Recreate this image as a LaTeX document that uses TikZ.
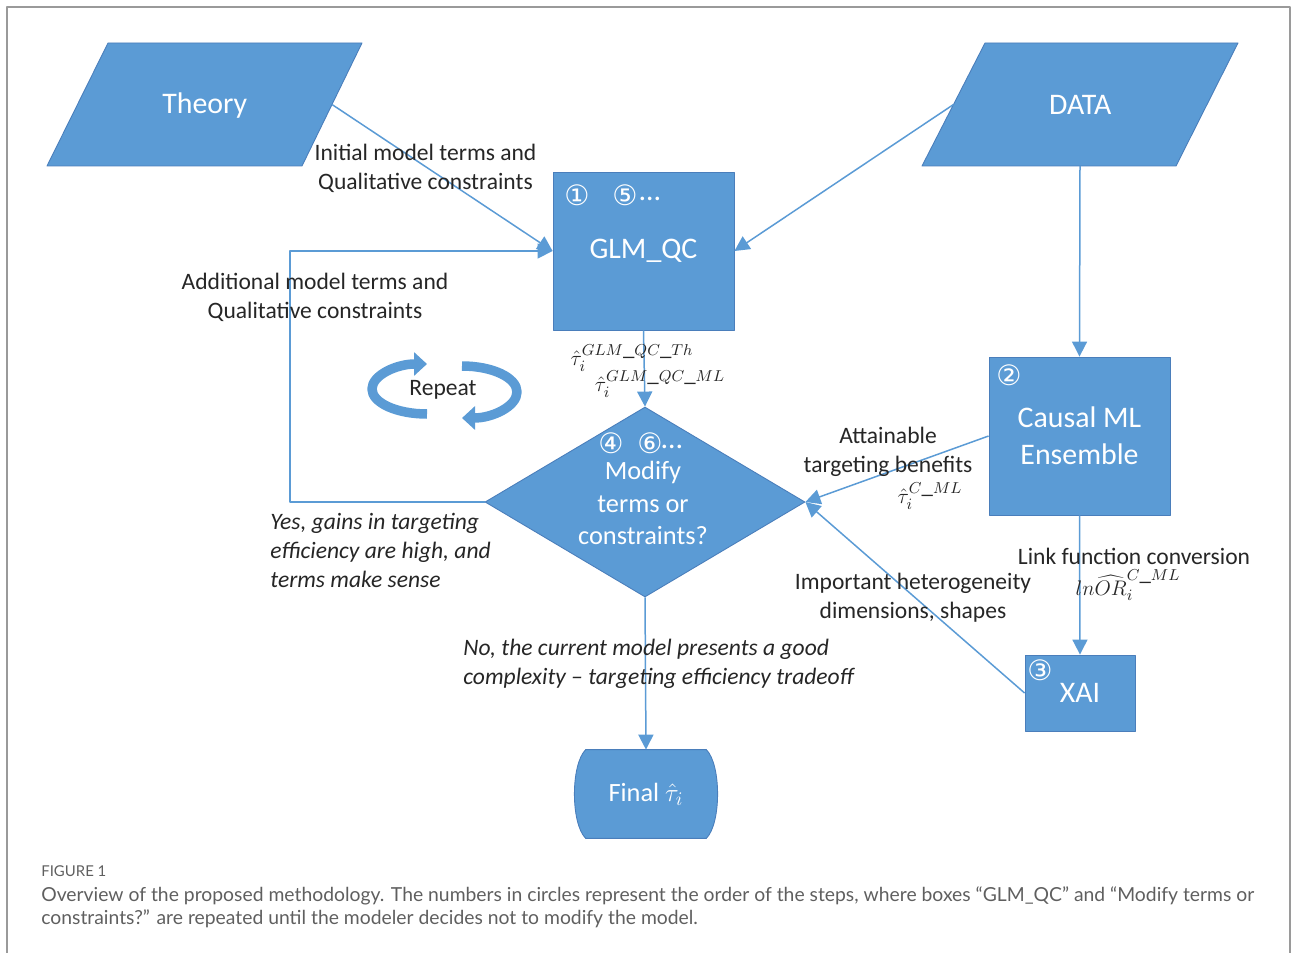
\documentclass[tikz,border=0pt]{standalone}
\usepackage{fontspec}
\setmainfont{Carlito}
\newfontfamily\symfont{DejaVu Sans}
\newfontfamily\capfamily{Lato}
\usetikzlibrary{arrows.meta,shapes.geometric,backgrounds,calc}
\definecolor{boxblue}{HTML}{5B9BD5}
\definecolor{boxline}{HTML}{4A7EBB}
\definecolor{linkblue}{HTML}{5B9BD5}
\definecolor{labelgray}{HTML}{262626}
\definecolor{capgray}{HTML}{5F5F5F}
\definecolor{framegray}{HTML}{9A9A9A}
\newcommand\bxfont{\fontsize{17}{21}\selectfont}
\newcommand\lbfont{\fontsize{13.4}{16.5}\selectfont}
\newcommand\dmfont{\fontsize{15}{18.5}\selectfont}
\newcommand\mtfont{\fontsize{13}{15}\selectfont}
\tikzset{
  blockfill/.style={draw=boxline, fill=boxblue, line width=0.5pt},
  block/.style={blockfill, text=white, font=\bxfont, inner sep=0pt, align=center},
  link/.style={draw=linkblue, line width=0.03cm, -{Triangle[length=0.3cm,width=0.3cm]}},
  lbl/.style={text=labelgray, font=\lbfont, align=center, inner sep=0pt},
  yesno/.style={text=labelgray, font=\lbfont\itshape, align=left, inner sep=0pt},
  mathlbl/.style={text=labelgray, font=\mtfont, inner sep=0pt},
  num/.style={text=white, font=\symfont\fontsize{16}{16}\selectfont, inner sep=0pt},
  repeatarrow/.style={draw=boxblue, line width=0.19cm, -{Triangle[length=0.26cm,width=0.46cm]}},
}
\begin{document}
\begin{tikzpicture}[x=0.02cm,y=-0.02cm,line join=round]
	\useasboundingbox (0,0) rectangle (1292,953);
	% frame
	\draw[framegray,line width=0.6pt] (7,953) -- (7,7) -- (1290,7) -- (1290,953);
	% input parallelograms
	\path
	(108,43) coordinate (T1)
	(362,43) coordinate (T2)
	(302,166) coordinate (T3)
	(47,166) coordinate (T4)
	(985,43) coordinate (D1)
	(1238,43) coordinate (D2)
	(1176,166) coordinate (D3)
	(922,166) coordinate (D4);
	\path[blockfill] (T1) -- (T2) -- (T3) -- (T4) -- cycle;
	\path[blockfill] (D1) -- (D2) -- (D3) -- (D4) -- cycle;
	\node[text=white,font=\bxfont] (theory) at (204.75,106) {Theory};
	\node[text=white,font=\bxfont] (data) at (1080.25,105) {DATA};
	\coordinate (theory-e) at ($(T2)!0.5!(T3)$);
	\coordinate (data-w) at ($(D1)!0.5!(D4)$);
	\coordinate (data-s) at (1080,166);
	% process boxes
	\node[block,minimum width=3.62cm,minimum height=3.16cm] (glm) at (643.5,251) {GLM\_QC};
	\node[block,minimum width=3.62cm,minimum height=3.16cm] (causal) at (1079.5,436) {Causal ML\\Ensemble};
	\node[block,minimum width=2.2cm,minimum height=1.52cm] (xai) at (1080,693) {XAI};
	\node[diamond,blockfill,minimum width=6.4cm,minimum height=3.8cm,inner sep=0pt] (modify) at (645,502) {};
	\node[text=white,font=\dmfont,align=center,inner sep=0pt] at (643,503) {Modify\\terms or\\constraints?};
	\node[text=white,font=\dmfont,minimum width=2.4cm,minimum height=1.76cm,inner sep=0pt] (final) at (646,794) {Final $\hat{\tau}_i$};
	\begin{scope}[on background layer]
	\path[blockfill] (final.north west) -- (final.north east) .. controls +(15,15) and +(15,-15) .. (final.south east) -- (final.south west) .. controls +(-15,-15) and +(-15,15) .. (final.north west) -- cycle;
	\end{scope}
	% step numbers
	\node[num] at (577,195) {①};
	\node[num] at (625,195) {⑤};
	\node[text=white,font=\bxfont,inner sep=0pt] at (650,199) {…};
	\node[num] at (1009,375) {②};
	\node[num] at (1040,670) {③};
	\node[num] at (611,443) {④};
	\node[num] at (650,443) {⑥};
	\node[text=white,font=\bxfont,inner sep=0pt] at (672,447) {…};
	% connectors
	\coordinate (loop) at (290,400);
	\draw[link] (theory-e) -- (glm.west);
	\draw[link] (data-w) -- (glm.east);
	\draw[link] (data-s) -- (causal.north);
	\draw[link] (glm.south) -- (modify.north);
	\draw[link] (causal.west) -- (modify.east);
	\draw[link] (causal.south) -- (xai.north);
	\draw[link] (xai.west) -- (modify.east);
	\draw[link] (modify.south) -- (final.north);
	\draw[link] (modify.west) -| (loop) |- (glm.west);
	% repeat
	\draw[repeatarrow] (427,414) arc[start angle=90,end angle=270,x radius=55,y radius=25];
	\draw[repeatarrow] (462,366) arc[start angle=270,end angle=450,x radius=55,y radius=26];
	\node[lbl] (repeat) at (443,390) {Repeat};
	% labels
	\node[lbl] at (425.5,168) {Initial model terms and\\Qualitative constraints};
	\node[lbl] at (315,297.5) {Additional model terms and\\Qualitative constraints};
	\node[lbl] at (888,451.5) {Attainable\\targeting benefits};
	\node[lbl] at (913,597.5) {Important heterogeneity\\dimensions, shapes};
	\node[lbl] at (1134,556) {Link function conversion};
	\node[mathlbl] at (632,358) {$\hat{\tau}_i^{GLM\_QC\_Th}$};
	\node[mathlbl] at (660,384) {$\hat{\tau}_i^{GLM\_QC\_ML}$};
	\node[mathlbl] at (930,496) {$\hat{\tau}_i^{C\_ML}$};
	\node[mathlbl] at (1128,585) {$ln\widehat{OR}_i^{C\_ML}$};
	\node[yesno,anchor=west] at (270,550) {Yes, gains in targeting\\efficiency are high, and\\terms make sense};
	\node[yesno,anchor=west] at (463,663.5) {No, the current model presents a good\\complexity -- targeting efficiency tradeoff};
	% caption
	\node[anchor=base west,inner sep=0pt,text=capgray,font=\capfamily\fontsize{8.5}{10}\selectfont] at (41,876) {FIGURE 1};
	\node[anchor=base west,inner sep=0pt,text=capgray,font=\capfamily\fontsize{11}{13}\selectfont] at (41,901) {Overview of the proposed methodology. The numbers in circles represent the order of the steps, where boxes “GLM\_QC” and “Modify terms or};
	\node[anchor=base west,inner sep=0pt,text=capgray,font=\capfamily\fontsize{11}{13}\selectfont] at (41,924) {constraints?” are repeated until the modeler decides not to modify the model.};
\end{tikzpicture}
\end{document}
